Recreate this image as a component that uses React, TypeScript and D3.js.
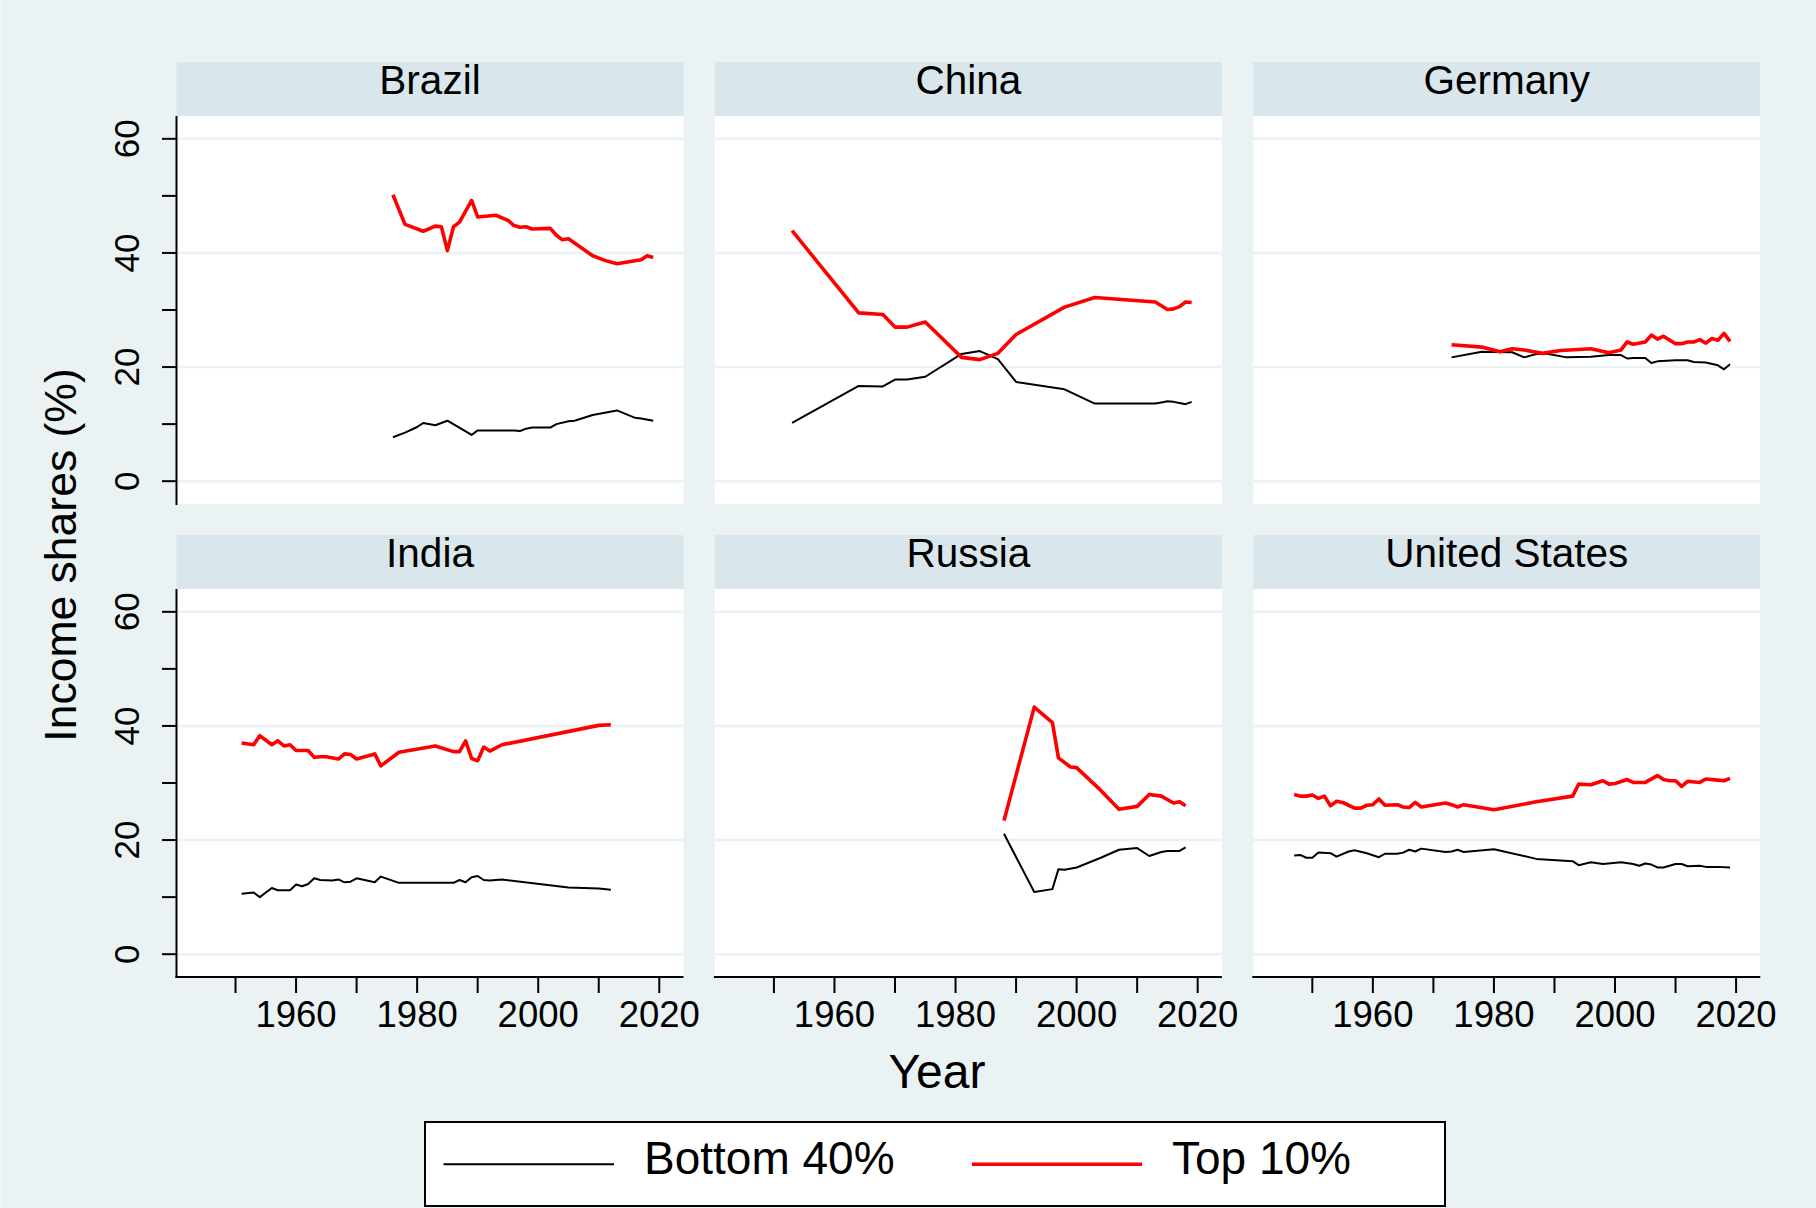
import React from "react";
import * as d3 from "d3";

type Pt = [number, number];

const countries = ["Brazil", "China", "Germany", "India", "Russia", "United States"];
const seriesNames = ["Bottom 40%", "Top 10%"];
const xTickYears = [1950, 1960, 1970, 1980, 1990, 2000, 2010, 2020];
const xLabelYears = [1960, 1980, 2000, 2020];
const yTicks = [0, 10, 20, 30, 40, 50, 60];
const yLabels = [0, 20, 40, 60];

const brazilTop10: Pt[] = [[1976,50.2],[1978,45.0],[1981,43.8],[1983,44.7],[1984,44.6],[1985,40.4],[1986,44.6],[1987,45.4],[1989,49.2],[1990,46.3],[1993,46.6],[1995,45.7],[1996,44.8],[1997,44.5],[1998,44.6],[1999,44.2],[2002,44.3],[2003,43.1],[2004,42.3],[2005,42.5],[2009,39.5],[2011,38.7],[2013,38.1],[2017,38.8],[2018,39.5],[2019,39.2]];
const brazilBottom40: Pt[] = [[1976,7.7],[1978,8.5],[1980,9.5],[1981,10.2],[1983,9.8],[1985,10.6],[1989,8.1],[1990,8.9],[1996,8.9],[1997,8.8],[1998,9.2],[1999,9.4],[2002,9.4],[2003,10.0],[2005,10.5],[2006,10.6],[2009,11.6],[2013,12.4],[2016,11.1],[2017,11.0],[2019,10.6]];

const chinaTop10: Pt[] = [[1953,43.9],[1964,29.5],[1968,29.2],[1970,27.0],[1972,27.0],[1975,27.9],[1981,21.7],[1984,21.3],[1987,22.4],[1990,25.7],[1998,30.5],[2003,32.2],[2013,31.4],[2015,30.1],[2016,30.2],[2017,30.6],[2018,31.4],[2019,31.3]];
const chinaBottom40: Pt[] = [[1953,10.2],[1964,16.7],[1968,16.6],[1970,17.8],[1972,17.8],[1975,18.3],[1981,22.3],[1984,22.8],[1987,21.4],[1990,17.4],[1998,16.1],[2003,13.6],[2013,13.6],[2014,13.8],[2015,14.0],[2016,13.9],[2017,13.7],[2018,13.5],[2019,13.9]];

const germanyTop10: Pt[] = [[1973,23.9],[1978,23.5],[1981,22.7],[1983,23.2],[1985,23.0],[1988,22.4],[1991,22.9],[1996,23.2],[1999,22.5],[2001,23.0],[2002,24.4],[2003,24.0],[2005,24.4],[2006,25.6],[2007,24.9],[2008,25.4],[2010,24.1],[2011,24.1],[2012,24.4],[2013,24.4],[2014,24.8],[2015,24.2],[2016,25.0],[2017,24.7],[2018,25.9],[2019,24.5]];
const germanyBottom40: Pt[] = [[1973,21.7],[1978,22.7],[1983,22.6],[1985,21.7],[1987,22.3],[1989,22.3],[1992,21.7],[1996,21.8],[1999,22.1],[2001,22.1],[2002,21.5],[2003,21.6],[2005,21.6],[2006,20.7],[2007,21.0],[2010,21.2],[2012,21.2],[2013,20.9],[2015,20.8],[2017,20.3],[2018,19.6],[2019,20.5]];

const indiaTop10: Pt[] = [[1951,37.0],[1953,36.7],[1954,38.3],[1956,36.7],[1957,37.4],[1958,36.5],[1959,36.7],[1960,35.7],[1962,35.7],[1963,34.5],[1964,34.6],[1965,34.6],[1967,34.2],[1968,35.1],[1969,35.0],[1970,34.2],[1973,35.1],[1974,33.0],[1977,35.4],[1983,36.5],[1986,35.5],[1987,35.5],[1988,37.4],[1989,34.3],[1990,33.9],[1991,36.3],[1992,35.6],[1994,36.7],[2010,40.1],[2012,40.2]];
const indiaBottom40: Pt[] = [[1951,10.6],[1953,10.8],[1954,10.0],[1956,11.6],[1957,11.2],[1959,11.2],[1960,12.2],[1961,11.9],[1962,12.3],[1963,13.3],[1964,13.0],[1966,12.9],[1967,13.1],[1968,12.6],[1969,12.7],[1970,13.3],[1973,12.6],[1974,13.6],[1977,12.5],[1986,12.5],[1987,13.0],[1988,12.6],[1989,13.5],[1990,13.7],[1991,13.0],[1992,12.9],[1994,13.1],[2005,11.7],[2010,11.5],[2012,11.3]];

const russiaTop10: Pt[] = [[1988,23.4],[1993,43.3],[1996,40.6],[1997,34.4],[1999,32.8],[2000,32.7],[2004,28.7],[2007,25.4],[2010,25.9],[2012,28.0],[2014,27.7],[2016,26.5],[2017,26.7],[2018,26.0]];
const russiaBottom40: Pt[] = [[1988,21.1],[1993,10.9],[1996,11.4],[1997,14.9],[1998,14.8],[2000,15.2],[2004,16.9],[2007,18.3],[2010,18.6],[2012,17.2],[2014,17.9],[2015,18.1],[2017,18.1],[2018,18.7]];

const usTop10: Pt[] = [[1947,28.0],[1948,27.7],[1949,27.7],[1950,27.9],[1951,27.3],[1952,27.7],[1953,26.0],[1954,26.8],[1955,26.6],[1956,26.1],[1957,25.6],[1958,25.6],[1959,26.1],[1960,26.2],[1961,27.2],[1962,26.1],[1964,26.2],[1965,25.8],[1966,25.7],[1967,26.6],[1968,25.8],[1972,26.5],[1973,26.2],[1974,25.8],[1975,26.2],[1980,25.3],[1987,26.7],[1993,27.7],[1994,29.8],[1996,29.7],[1998,30.4],[1999,29.8],[2000,29.9],[2002,30.6],[2003,30.1],[2005,30.1],[2007,31.3],[2008,30.6],[2009,30.4],[2010,30.4],[2011,29.4],[2012,30.3],[2014,30.1],[2015,30.7],[2017,30.5],[2018,30.4],[2019,30.8]];
const usBottom40: Pt[] = [[1947,17.3],[1948,17.4],[1949,16.9],[1950,16.9],[1951,17.8],[1953,17.7],[1954,17.1],[1956,18.0],[1957,18.2],[1959,17.7],[1961,17.0],[1962,17.6],[1964,17.6],[1965,17.8],[1966,18.3],[1967,18.0],[1968,18.5],[1972,17.9],[1973,18.0],[1974,18.3],[1975,17.9],[1980,18.4],[1987,16.7],[1993,16.3],[1994,15.6],[1996,16.1],[1998,15.8],[2001,16.1],[2003,15.8],[2004,15.5],[2005,15.9],[2006,15.7],[2007,15.2],[2008,15.2],[2010,15.8],[2011,15.8],[2012,15.4],[2014,15.5],[2015,15.3],[2017,15.3],[2019,15.2]];

const bottomSeries: Pt[][] = [brazilBottom40, chinaBottom40, germanyBottom40, indiaBottom40, russiaBottom40, usBottom40];
const topSeries: Pt[][] = [brazilTop10, chinaTop10, germanyTop10, indiaTop10, russiaTop10, usTop10];

const W = 1816;
const H = 1208;
const FONT = "'Liberation Sans', Arial, Helvetica, sans-serif";
const BG = "#EAF2F3";
const HEADER = "#D9E6EB";

const colLeft = [176.5, 714.9, 1253.3];
const panelW = 507;
const headerTop = [62, 535];
const headerH = 54;
const plotH = 388;

const xScale = d3.scaleLinear().domain([1940.25, 2024]).range([0, panelW]);
const yScale = d3.scaleLinear().domain([-4, 64]).range([plotH, 0]);
const lineGen = d3.line<Pt>().x((d) => xScale(d[0])).y((d) => yScale(d[1]));

export default function App() {
  return (
    <svg
      width={W}
      height={H}
      viewBox={`0 0 ${W} ${H}`}
      style={{ position: "absolute", left: 0, top: 0, display: "block" }}
      fontFamily={FONT}
    >
      <rect x={0} y={0} width={W} height={H} fill={BG} />
      <rect x={0.5} y={0} width={1.5} height={H} fill="#F4F8F9" />
      {countries.map((name, i) => {
        const row = Math.floor(i / 3);
        const col = i % 3;
        const left = colLeft[col];
        const hTop = headerTop[row];
        const pTop = hTop + headerH;
        return (
          <g key={name}>
            <rect x={left} y={hTop} width={panelW} height={headerH} fill={HEADER} />
            <text
              x={left + panelW / 2}
              y={hTop + 31.5}
              textAnchor="middle"
              fontSize={40.5}
              fill="#000"
            >
              {name}
            </text>
            <g transform={`translate(${left},${pTop})`}>
              <rect x={0} y={0} width={panelW} height={plotH} fill="#fff" />
              {yLabels.map((v) => (
                <line
                  key={v}
                  x1={0}
                  x2={panelW}
                  y1={yScale(v)}
                  y2={yScale(v)}
                  stroke={BG}
                  strokeWidth={2.6}
                />
              ))}
              <path
                d={lineGen(bottomSeries[i]) || ""}
                fill="none"
                stroke="#000"
                strokeWidth={2}
                strokeLinejoin="round"
              />
              <path
                d={lineGen(topSeries[i]) || ""}
                fill="none"
                stroke="#FF0000"
                strokeWidth={3.6}
                strokeLinejoin="round"
              />
              {col === 0 && (
                <g>
                  <line x1={0} x2={0} y1={0} y2={plotH + 1} stroke="#000" strokeWidth={2} />
                  {yTicks.map((v) => (
                    <line
                      key={v}
                      x1={-14.5}
                      x2={0}
                      y1={yScale(v)}
                      y2={yScale(v)}
                      stroke="#000"
                      strokeWidth={2}
                    />
                  ))}
                  {yLabels.map((v) => (
                    <text
                      key={v}
                      transform={`translate(${138.5 - left},${yScale(v)}) rotate(-90)`}
                      textAnchor="middle"
                      fontSize={35}
                      fill="#000"
                    >
                      {v}
                    </text>
                  ))}
                </g>
              )}
              {row === 1 && (
                <g>
                  <line x1={-1} x2={panelW} y1={plotH} y2={plotH} stroke="#000" strokeWidth={2} />
                  {xTickYears.map((yr) => (
                    <line
                      key={yr}
                      x1={xScale(yr)}
                      x2={xScale(yr)}
                      y1={plotH}
                      y2={plotH + 16}
                      stroke="#000"
                      strokeWidth={2}
                    />
                  ))}
                  {xLabelYears.map((yr) => (
                    <text
                      key={yr}
                      x={xScale(yr)}
                      y={plotH + 50}
                      textAnchor="middle"
                      fontSize={36.5}
                      fill="#000"
                    >
                      {yr}
                    </text>
                  ))}
                </g>
              )}
            </g>
          </g>
        );
      })}
      <text
        transform={`translate(76,555) rotate(-90)`}
        textAnchor="middle"
        fontSize={44.5}
        fill="#000"
      >
        Income shares (%)
      </text>
      <text x={937} y={1088} textAnchor="middle" fontSize={48} fill="#000">
        Year
      </text>
      <g>
        <rect x={425} y={1122} width={1020} height={84} fill="#fff" stroke="#000" strokeWidth={2} />
        <line x1={443.5} x2={614} y1={1164.3} y2={1164.3} stroke="#000" strokeWidth={2} />
        <text x={644} y={1174} fontSize={46} fill="#000">
          {seriesNames[0]}
        </text>
        <line x1={972} x2={1142} y1={1164.3} y2={1164.3} stroke="#FF0000" strokeWidth={3.6} />
        <text x={1172} y={1174} fontSize={46} fill="#000">
          {seriesNames[1]}
        </text>
      </g>
    </svg>
  );
}
